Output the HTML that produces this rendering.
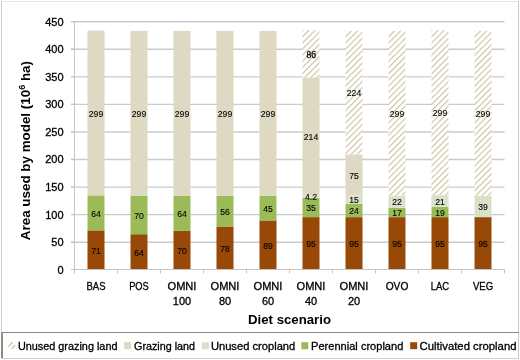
<!DOCTYPE html><html><head><meta charset="utf-8"><style>html,body{margin:0;padding:0;background:#fff;overflow:hidden}svg{display:block;will-change:transform}text{font-family:"Liberation Sans",sans-serif;fill:#000;stroke:#000;stroke-width:0.3px}.b{stroke-width:0}.d{stroke-width:0.12px}</style></head><body>
<svg width="520" height="360" viewBox="0 0 520 360">
<defs>
<pattern id="p_hatch" patternUnits="userSpaceOnUse" width="4.35" height="4.35" patternTransform="rotate(45)"><rect width="4.35" height="4.35" fill="#fff"/><rect x="0" y="0" width="1.15" height="4.35" fill="#ccc4a2"/></pattern>
<pattern id="p_ucrop" patternUnits="userSpaceOnUse" width="2.8" height="4"><rect width="2.8" height="4" fill="#dfe6d2"/><rect x="0" y="0" width="1.2" height="4" fill="#d2dcc0"/></pattern>
</defs>
<rect x="0" y="0" width="520" height="360" fill="#fff"/>
<rect x="1" y="1" width="518" height="1" fill="#e6e6e6"/>
<rect x="1" y="1" width="1" height="332" fill="#cdcdcd"/>
<rect x="518" y="1" width="1" height="358" fill="#c8c8c8"/>
<line x1="71" y1="242.19" x2="504.5" y2="242.19" stroke="#cbcbcb" stroke-width="1.4"/>
<line x1="71" y1="214.64" x2="504.5" y2="214.64" stroke="#cbcbcb" stroke-width="1.4"/>
<line x1="71" y1="187.08" x2="504.5" y2="187.08" stroke="#cbcbcb" stroke-width="1.4"/>
<line x1="71" y1="159.53" x2="504.5" y2="159.53" stroke="#cbcbcb" stroke-width="1.4"/>
<line x1="71" y1="131.97" x2="504.5" y2="131.97" stroke="#cbcbcb" stroke-width="1.4"/>
<line x1="71" y1="104.42" x2="504.5" y2="104.42" stroke="#cbcbcb" stroke-width="1.4"/>
<line x1="71" y1="76.86" x2="504.5" y2="76.86" stroke="#cbcbcb" stroke-width="1.4"/>
<line x1="71" y1="49.31" x2="504.5" y2="49.31" stroke="#cbcbcb" stroke-width="1.4"/>
<line x1="71" y1="21.75" x2="504.5" y2="21.75" stroke="#cbcbcb" stroke-width="1.4"/>
<rect x="87.50" y="230.37" width="17.00" height="39.13" fill="#984807"/>
<rect x="87.50" y="195.43" width="17.00" height="34.94" fill="#9bbb59"/>
<rect x="87.50" y="30.65" width="17.00" height="164.78" fill="#ddd9c3"/>
<rect x="130.50" y="234.23" width="17.00" height="35.27" fill="#984807"/>
<rect x="130.50" y="195.65" width="17.00" height="38.58" fill="#9bbb59"/>
<rect x="130.50" y="30.87" width="17.00" height="164.78" fill="#ddd9c3"/>
<rect x="173.50" y="230.92" width="17.00" height="38.58" fill="#984807"/>
<rect x="173.50" y="195.65" width="17.00" height="35.27" fill="#9bbb59"/>
<rect x="173.50" y="30.87" width="17.00" height="164.78" fill="#ddd9c3"/>
<rect x="216.50" y="226.51" width="17.00" height="42.99" fill="#984807"/>
<rect x="216.50" y="195.65" width="17.00" height="30.86" fill="#9bbb59"/>
<rect x="216.50" y="30.87" width="17.00" height="164.78" fill="#ddd9c3"/>
<rect x="259.50" y="220.45" width="17.00" height="49.05" fill="#984807"/>
<rect x="259.50" y="195.65" width="17.00" height="24.80" fill="#9bbb59"/>
<rect x="259.50" y="30.87" width="17.00" height="164.78" fill="#ddd9c3"/>
<rect x="302.50" y="217.14" width="17.00" height="52.36" fill="#984807"/>
<rect x="302.50" y="197.86" width="17.00" height="19.29" fill="#9bbb59"/>
<rect x="302.50" y="195.54" width="17.00" height="2.31" fill="url(#p_ucrop)"/>
<rect x="302.50" y="77.60" width="17.00" height="117.94" fill="#ddd9c3"/>
<rect x="302.50" y="30.21" width="17.00" height="47.40" fill="url(#p_hatch)"/>
<rect x="345.50" y="217.14" width="17.00" height="52.36" fill="#984807"/>
<rect x="345.50" y="203.92" width="17.00" height="13.23" fill="#9bbb59"/>
<rect x="345.50" y="195.65" width="17.00" height="8.27" fill="url(#p_ucrop)"/>
<rect x="345.50" y="154.32" width="17.00" height="41.33" fill="#ddd9c3"/>
<rect x="345.50" y="30.87" width="17.00" height="123.45" fill="url(#p_hatch)"/>
<rect x="388.50" y="217.14" width="17.00" height="52.36" fill="#984807"/>
<rect x="388.50" y="207.78" width="17.00" height="9.37" fill="#9bbb59"/>
<rect x="388.50" y="195.65" width="17.00" height="12.12" fill="url(#p_ucrop)"/>
<rect x="388.50" y="30.87" width="17.00" height="164.78" fill="url(#p_hatch)"/>
<rect x="431.50" y="217.14" width="17.00" height="52.36" fill="#984807"/>
<rect x="431.50" y="206.67" width="17.00" height="10.47" fill="#9bbb59"/>
<rect x="431.50" y="195.10" width="17.00" height="11.57" fill="url(#p_ucrop)"/>
<rect x="431.50" y="30.32" width="17.00" height="164.78" fill="url(#p_hatch)"/>
<rect x="474.50" y="217.14" width="17.00" height="52.36" fill="#984807"/>
<rect x="474.50" y="195.65" width="17.00" height="21.49" fill="url(#p_ucrop)"/>
<rect x="474.50" y="30.87" width="17.00" height="164.78" fill="url(#p_hatch)"/>
<line x1="74.5" y1="21" x2="74.5" y2="273.5" stroke="#c4c4c4" stroke-width="1"/>
<line x1="71" y1="269.5" x2="504.5" y2="269.5" stroke="#c4c4c4" stroke-width="1"/>
<line x1="71" y1="269.50" x2="74.5" y2="269.50" stroke="#c4c4c4" stroke-width="1"/>
<line x1="71" y1="241.94" x2="74.5" y2="241.94" stroke="#c4c4c4" stroke-width="1"/>
<line x1="71" y1="214.39" x2="74.5" y2="214.39" stroke="#c4c4c4" stroke-width="1"/>
<line x1="71" y1="186.83" x2="74.5" y2="186.83" stroke="#c4c4c4" stroke-width="1"/>
<line x1="71" y1="159.28" x2="74.5" y2="159.28" stroke="#c4c4c4" stroke-width="1"/>
<line x1="71" y1="131.72" x2="74.5" y2="131.72" stroke="#c4c4c4" stroke-width="1"/>
<line x1="71" y1="104.17" x2="74.5" y2="104.17" stroke="#c4c4c4" stroke-width="1"/>
<line x1="71" y1="76.61" x2="74.5" y2="76.61" stroke="#c4c4c4" stroke-width="1"/>
<line x1="71" y1="49.06" x2="74.5" y2="49.06" stroke="#c4c4c4" stroke-width="1"/>
<line x1="71" y1="21.50" x2="74.5" y2="21.50" stroke="#c4c4c4" stroke-width="1"/>
<line x1="74.5" y1="269.5" x2="74.5" y2="273.5" stroke="#c4c4c4" stroke-width="1"/>
<line x1="117.5" y1="269.5" x2="117.5" y2="273.5" stroke="#c4c4c4" stroke-width="1"/>
<line x1="160.5" y1="269.5" x2="160.5" y2="273.5" stroke="#c4c4c4" stroke-width="1"/>
<line x1="203.5" y1="269.5" x2="203.5" y2="273.5" stroke="#c4c4c4" stroke-width="1"/>
<line x1="246.5" y1="269.5" x2="246.5" y2="273.5" stroke="#c4c4c4" stroke-width="1"/>
<line x1="289.5" y1="269.5" x2="289.5" y2="273.5" stroke="#c4c4c4" stroke-width="1"/>
<line x1="332.5" y1="269.5" x2="332.5" y2="273.5" stroke="#c4c4c4" stroke-width="1"/>
<line x1="375.5" y1="269.5" x2="375.5" y2="273.5" stroke="#c4c4c4" stroke-width="1"/>
<line x1="418.5" y1="269.5" x2="418.5" y2="273.5" stroke="#c4c4c4" stroke-width="1"/>
<line x1="461.5" y1="269.5" x2="461.5" y2="273.5" stroke="#c4c4c4" stroke-width="1"/>
<line x1="504.5" y1="269.5" x2="504.5" y2="273.5" stroke="#c4c4c4" stroke-width="1"/>
<text transform="translate(96.00,253.64) scale(0.9,1)" font-size="9.6" class="d" text-anchor="middle">71</text>
<text transform="translate(96.00,216.60) scale(0.9,1)" font-size="9.6" class="d" text-anchor="middle">64</text>
<text transform="translate(96.00,116.74) scale(0.9,1)" font-size="9.6" class="d" text-anchor="middle">299</text>
<text transform="translate(139.00,255.56) scale(0.9,1)" font-size="9.6" class="d" text-anchor="middle">64</text>
<text transform="translate(139.00,218.64) scale(0.9,1)" font-size="9.6" class="d" text-anchor="middle">70</text>
<text transform="translate(139.00,116.96) scale(0.9,1)" font-size="9.6" class="d" text-anchor="middle">299</text>
<text transform="translate(182.00,253.91) scale(0.9,1)" font-size="9.6" class="d" text-anchor="middle">70</text>
<text transform="translate(182.00,216.99) scale(0.9,1)" font-size="9.6" class="d" text-anchor="middle">64</text>
<text transform="translate(182.00,116.96) scale(0.9,1)" font-size="9.6" class="d" text-anchor="middle">299</text>
<text transform="translate(225.00,251.71) scale(0.9,1)" font-size="9.6" class="d" text-anchor="middle">78</text>
<text transform="translate(225.00,214.78) scale(0.9,1)" font-size="9.6" class="d" text-anchor="middle">56</text>
<text transform="translate(225.00,116.96) scale(0.9,1)" font-size="9.6" class="d" text-anchor="middle">299</text>
<text transform="translate(268.00,248.68) scale(0.9,1)" font-size="9.6" class="d" text-anchor="middle">89</text>
<text transform="translate(268.00,211.75) scale(0.9,1)" font-size="9.6" class="d" text-anchor="middle">45</text>
<text transform="translate(268.00,116.96) scale(0.9,1)" font-size="9.6" class="d" text-anchor="middle">299</text>
<text transform="translate(311.00,247.02) scale(0.9,1)" font-size="9.6" class="d" text-anchor="middle">95</text>
<text transform="translate(311.00,211.20) scale(0.9,1)" font-size="9.6" class="d" text-anchor="middle">35</text>
<text transform="translate(311.00,200.40) scale(0.9,1)" font-size="9.6" class="d" text-anchor="middle">4.2</text>
<text transform="translate(311.00,140.27) scale(0.9,1)" font-size="9.6" class="d" text-anchor="middle">214</text>
<text x="311.30" y="58.31" font-size="9.5" text-anchor="middle" style="font-family:'Liberation Serif',serif">86</text>
<text transform="translate(354.00,247.02) scale(0.9,1)" font-size="9.6" class="d" text-anchor="middle">95</text>
<text transform="translate(354.00,214.23) scale(0.9,1)" font-size="9.6" class="d" text-anchor="middle">24</text>
<text transform="translate(354.00,203.48) scale(0.9,1)" font-size="9.6" class="d" text-anchor="middle">15</text>
<text transform="translate(354.00,178.68) scale(0.9,1)" font-size="9.6" class="d" text-anchor="middle">75</text>
<text transform="translate(354.00,96.29) scale(0.9,1)" font-size="9.6" class="d" text-anchor="middle">224</text>
<text transform="translate(397.00,247.02) scale(0.9,1)" font-size="9.6" class="d" text-anchor="middle">95</text>
<text transform="translate(397.00,216.16) scale(0.9,1)" font-size="9.6" class="d" text-anchor="middle">17</text>
<text transform="translate(397.00,205.41) scale(0.9,1)" font-size="9.6" class="d" text-anchor="middle">22</text>
<text transform="translate(397.00,116.96) scale(0.9,1)" font-size="9.6" class="d" text-anchor="middle">299</text>
<text transform="translate(440.00,247.02) scale(0.9,1)" font-size="9.6" class="d" text-anchor="middle">95</text>
<text transform="translate(440.00,215.61) scale(0.9,1)" font-size="9.6" class="d" text-anchor="middle">19</text>
<text transform="translate(440.00,204.59) scale(0.9,1)" font-size="9.6" class="d" text-anchor="middle">21</text>
<text transform="translate(440.00,116.41) scale(0.9,1)" font-size="9.6" class="d" text-anchor="middle">299</text>
<text transform="translate(483.00,247.02) scale(0.9,1)" font-size="9.6" class="d" text-anchor="middle">95</text>
<text transform="translate(483.00,210.10) scale(0.9,1)" font-size="9.6" class="d" text-anchor="middle">39</text>
<text transform="translate(483.00,116.96) scale(0.9,1)" font-size="9.6" class="d" text-anchor="middle">299</text>
<text x="63.6" y="273.70" font-size="11" text-anchor="end">0</text>
<text x="63.6" y="246.14" font-size="11" text-anchor="end">50</text>
<text x="63.6" y="218.59" font-size="11" text-anchor="end">100</text>
<text x="63.6" y="191.03" font-size="11" text-anchor="end">150</text>
<text x="63.6" y="163.48" font-size="11" text-anchor="end">200</text>
<text x="63.6" y="135.92" font-size="11" text-anchor="end">250</text>
<text x="63.6" y="108.37" font-size="11" text-anchor="end">300</text>
<text x="63.6" y="80.81" font-size="11" text-anchor="end">350</text>
<text x="63.6" y="53.26" font-size="11" text-anchor="end">400</text>
<text x="63.6" y="25.70" font-size="11" text-anchor="end">450</text>
<text x="96.00" y="289.8" font-size="11" text-anchor="middle" textLength="18.98" lengthAdjust="spacingAndGlyphs">BAS</text>
<text x="139.00" y="289.8" font-size="11" text-anchor="middle" textLength="19.66" lengthAdjust="spacingAndGlyphs">POS</text>
<text x="182.00" y="289.8" font-size="11" text-anchor="middle" textLength="28.97" lengthAdjust="spacingAndGlyphs">OMNI</text>
<text x="182.00" y="304.8" font-size="11" text-anchor="middle">100</text>
<text x="225.00" y="289.8" font-size="11" text-anchor="middle" textLength="28.97" lengthAdjust="spacingAndGlyphs">OMNI</text>
<text x="225.00" y="304.8" font-size="11" text-anchor="middle">80</text>
<text x="268.00" y="289.8" font-size="11" text-anchor="middle" textLength="28.97" lengthAdjust="spacingAndGlyphs">OMNI</text>
<text x="268.00" y="304.8" font-size="11" text-anchor="middle">60</text>
<text x="311.00" y="289.8" font-size="11" text-anchor="middle" textLength="28.97" lengthAdjust="spacingAndGlyphs">OMNI</text>
<text x="311.00" y="304.8" font-size="11" text-anchor="middle">40</text>
<text x="354.00" y="289.8" font-size="11" text-anchor="middle" textLength="28.97" lengthAdjust="spacingAndGlyphs">OMNI</text>
<text x="354.00" y="304.8" font-size="11" text-anchor="middle">20</text>
<text x="397.00" y="289.8" font-size="11" text-anchor="middle" textLength="22.70" lengthAdjust="spacingAndGlyphs">OVO</text>
<text x="440.00" y="289.8" font-size="11" text-anchor="middle" textLength="18.39" lengthAdjust="spacingAndGlyphs">LAC</text>
<text x="483.00" y="289.8" font-size="11" text-anchor="middle" textLength="20.24" lengthAdjust="spacingAndGlyphs">VEG</text>
<text x="289.5" y="323.6" font-size="13.1" class="b" font-weight="bold" text-anchor="middle" textLength="83" lengthAdjust="spacingAndGlyphs">Diet scenario</text>
<text transform="translate(29.7,150.6) rotate(-90)" x="0" y="0" font-size="13.4" class="b" font-weight="bold" text-anchor="middle">Area used by model (10<tspan font-size="9" dy="-5">6</tspan><tspan dy="5"> ha)</tspan></text>
<rect x="1" y="332" width="518" height="1" fill="#8a8a8a"/>
<rect x="1" y="332" width="2" height="27" fill="#8c8c8c"/>
<rect x="1" y="358" width="518" height="1" fill="#d0d0d0"/>
<rect x="3" y="333" width="515" height="25" fill="#fff"/>
<path d="M8.8 346 L12.2 342.8 M11.8 348.4 L14.9 345.5" stroke="#ccc4a2" stroke-width="1.3" stroke-linecap="round" fill="none"/>
<text x="17.9" y="349.9" font-size="11" textLength="99.6" lengthAdjust="spacingAndGlyphs">Unused grazing land</text>
<rect x="124.2" y="342.2" width="7" height="7" fill="#ddd9c3"/>
<text x="134.0" y="349.9" font-size="11" textLength="61.1" lengthAdjust="spacingAndGlyphs">Grazing land</text>
<rect x="201.9" y="342.2" width="7" height="7" fill="url(#p_ucrop)"/>
<text x="210.9" y="349.9" font-size="11" textLength="84.4" lengthAdjust="spacingAndGlyphs">Unused cropland</text>
<rect x="301.3" y="342.2" width="7" height="7" fill="#9bbb59"/>
<text x="311.1" y="349.9" font-size="11" textLength="92.2" lengthAdjust="spacingAndGlyphs">Perennial cropland</text>
<rect x="410.2" y="342.2" width="7" height="7" fill="#984807"/>
<text x="419.6" y="349.9" font-size="11" textLength="96.9" lengthAdjust="spacingAndGlyphs">Cultivated cropland</text>
</svg></body></html>
